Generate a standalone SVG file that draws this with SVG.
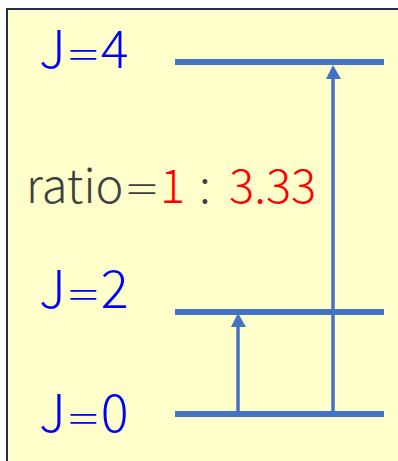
<svg xmlns="http://www.w3.org/2000/svg" width="398" height="461" viewBox="0 0 398 461">
<style>
.lvl{stroke:#4472C4;stroke-width:6;fill:none}
.arr{stroke:#4472C4;stroke-width:3.5;fill:none}
.head{fill:#4472C4}
.j{font-family:"Noto Sans CJK JP","Noto Sans",sans-serif;font-size:52px;font-weight:300;fill:#0000FF}
.eq{font-size:35px}
.r{font-family:"Noto Sans CJK JP","Noto Sans",sans-serif;font-size:47px;font-weight:300;fill:#404040}
.req{font-size:36px}
.red{fill:#FF0000}
</style>
<rect x="7" y="9" width="400" height="460" fill="#FFFFCC" stroke="#1F2F4F" stroke-width="2"/>
<g id="levels">
<g id="J4"><line class="lvl" x1="175" y1="62" x2="384" y2="62"/><text class="j" x="39" y="68">J<tspan class="eq">＝</tspan>4</text></g>
<g id="J2"><line class="lvl" x1="175" y1="312" x2="384" y2="312"/><text class="j" x="39" y="308">J<tspan class="eq">＝</tspan>2</text></g>
<g id="J0"><line class="lvl" x1="175" y1="414" x2="384" y2="414"/><text class="j" x="39" y="432">J<tspan class="eq">＝</tspan>0</text></g>
</g>
<g id="ratio"><text class="r" y="203"><tspan x="26">ratio</tspan><tspan class="req" x="124">＝</tspan><tspan class="red" x="160">1</tspan><tspan x="199">:</tspan><tspan class="red" x="229">3.33</tspan></text></g>
<g id="connectors">
<line class="arr" x1="333" y1="414" x2="333" y2="76"/>
<polygon class="head" points="333,65 326,79 341,79"/>
<line class="arr" x1="238" y1="414" x2="238" y2="324"/>
<polygon class="head" points="238,313 231,327 246,327"/>
</g>
</svg>
